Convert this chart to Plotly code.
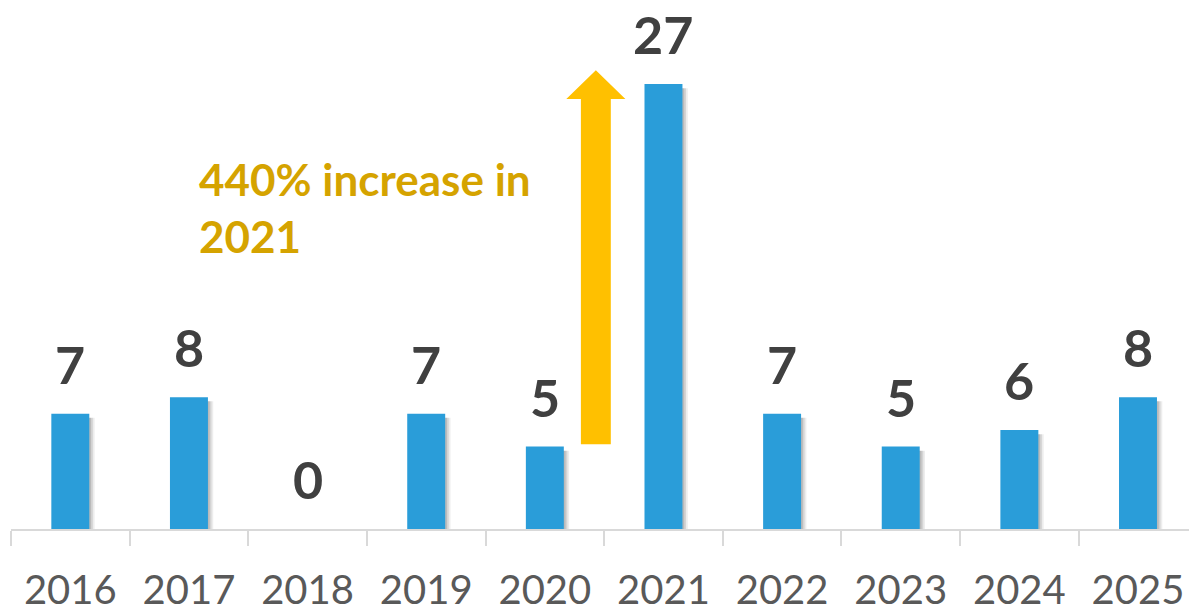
import plotly.graph_objects as go

years = ["2016", "2017", "2018", "2019", "2020", "2021", "2022", "2023", "2024", "2025"]
counts = [7, 8, 0, 7, 5, 27, 7, 5, 6, 8]
note_text = "440% increase in<br>2021"

BAR_BLUE = "#2A9DD9"
LABEL_GRAY = "#404040"
TICK_GRAY = "#595959"
AXIS_GRAY = "#D9D9D9"
ARROW_GOLD = "#FFC000"
NOTE_GOLD = "#D5A300"
FONT = "Lato"

bw = 0.32
fig = go.Figure()

# soft shadow layers
for dx, alpha in [(0.045, 0.07), (0.03, 0.10), (0.015, 0.12)]:
    fig.add_trace(go.Bar(
        x=years, y=[max(v - 0.25, 0) for v in counts],
        width=bw, offset=-bw / 2 + dx,
        marker=dict(color=f"rgba(0,0,0,{alpha})", line=dict(width=0)),
        hoverinfo="skip", showlegend=False,
    ))

fig.add_trace(go.Bar(
    x=years, y=counts, width=bw, offset=-bw / 2,
    marker=dict(color=BAR_BLUE, line=dict(width=0)),
    showlegend=False,
))

# value labels
for i, v in enumerate(counts):
    fig.add_annotation(
        x=i, y=v, xref="x", yref="y", text=f"<b>{v}</b>", showarrow=False,
        yanchor="bottom", yshift=17,
        font=dict(family=FONT, size=52, color=LABEL_GRAY),
    )

# arrow (data coordinates)
ax_c = 4.43
shaft_hw = 0.126
head_hw = 0.249
y_bot, y_head, y_tip = 5.15, 26.1, 27.84
path = (f"M {ax_c - shaft_hw},{y_bot} L {ax_c + shaft_hw},{y_bot} "
        f"L {ax_c + shaft_hw},{y_head} L {ax_c + head_hw},{y_head} "
        f"L {ax_c},{y_tip} L {ax_c - head_hw},{y_head} "
        f"L {ax_c - shaft_hw},{y_head} Z")
fig.add_shape(type="path", path=path, xref="x", yref="y",
              fillcolor=ARROW_GOLD, line=dict(width=0), layer="above")

fig.add_annotation(
    x=1.07, y=19.5, xref="x", yref="y", text=f"<b>{note_text}</b>", showarrow=False,
    xanchor="left", yanchor="middle", align="left",
    font=dict(family=FONT, size=44, color=NOTE_GOLD),
)

fig.update_layout(
    width=1189, height=613,
    margin=dict(l=11, r=0, t=0, b=77),
    paper_bgcolor="white", plot_bgcolor="white",
    barmode="overlay",
    xaxis=dict(
        type="category", range=[-0.5, 9.43],
        tickson="boundaries", ticks="outside", ticklen=15, tickwidth=2,
        tickcolor=AXIS_GRAY, showline=True, linecolor=AXIS_GRAY, linewidth=2,
        showgrid=False, zeroline=False,
        tickfont=dict(family=FONT, size=40, color=TICK_GRAY),
        ticklabelstandoff=25,
    ),
    yaxis=dict(range=[0, 32.1], visible=False, showgrid=False, zeroline=False),
    showlegend=False,
)

fig.write_html("out.html", config={"displayModeBar": False},
               post_script="document.body.style.margin='0';document.body.style.overflow='hidden';")
